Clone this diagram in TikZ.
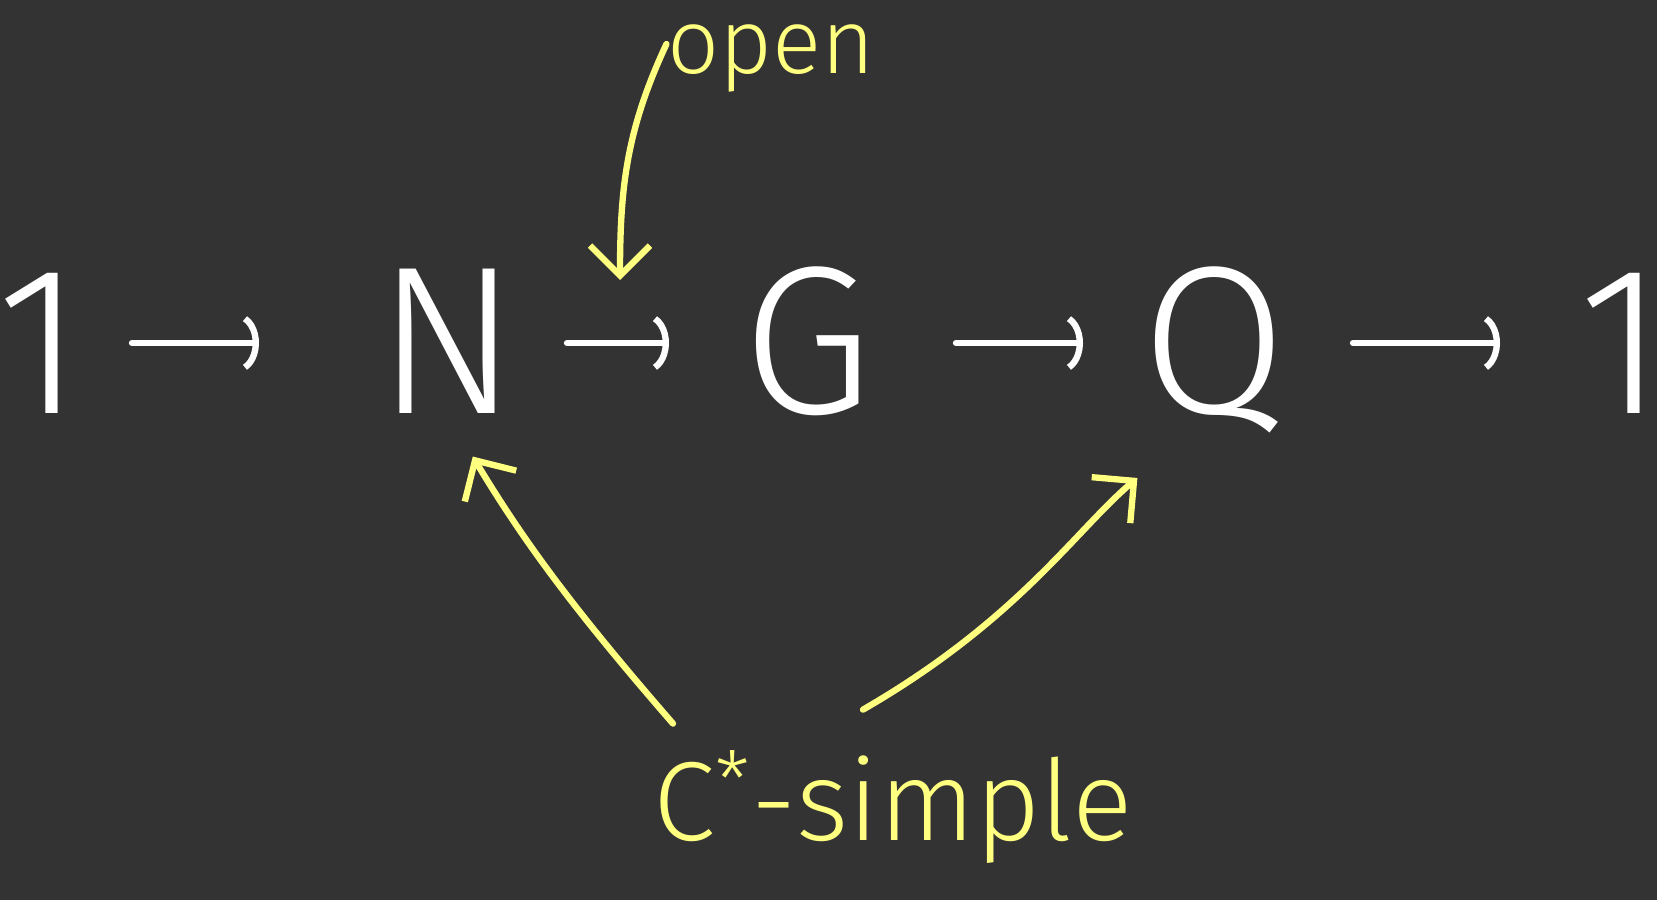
\documentclass[tikz,border=0pt]{standalone}
\usepackage{fontspec}
\setmainfont{Fira Sans}[UprightFont={* Light}]
\usetikzlibrary{arrows.meta, positioning}
\definecolor{board}{RGB}{51, 51, 51}
\definecolor{hilite}{RGB}{255, 255, 128}

\begin{document}
\begin{tikzpicture}[>={Arc Barb[arc=130, length=2.2mm, width=6mm]}, line cap=round,
  term/.style={white, font=\fontsize{60}{60}\selectfont, inner sep=0pt,
               text height=1.7cm, text depth=0pt},
  arr/.style={->, white, line width=1.8pt},
  yarr/.style={-{Straight Barb[length=3mm, width=6mm]}, hilite, line width=1.8pt},
  note/.style={hilite, inner sep=0pt, anchor=base}]
  \fill[board] (0,0) rectangle (16.57,9);
  \useasboundingbox (0,0) rectangle (16.57,9);
  \foreach \n/\t/\x in {one/1/0.40, N/N/4.47, G/G/8.08, Q/Q/12.14, last/1/16.22}{
    \node[term] (\n) at (\x, 5.72) {\t};
  }
  \foreach \a/\b/\s/\e in {one/N/0.92/1.88, N/G/1.20/1.39, G/Q/1.48/1.31, Q/last/1.39/1.22}{
    \draw[arr, shorten <=\s cm, shorten >=\e cm]
      ([yshift=-1.5mm]\a.center) -- ([yshift=-1.5mm]\b.center);
  }
  \node[note, font=\fontsize{26}{26}\selectfont] (open) at (7.71, 8.26) {open};
  \coordinate (openTip) at (6.20, 6.20);
  \draw[yarr] ([yshift=1.5mm]open.west) to[out=-115, in=90] (openTip);
  \node[note, font=\fontsize{32}{32}\selectfont] (cstar) at (8.93, 0.60)
    {C\textsuperscript{*}-simple};
  \draw[yarr, shorten >=5mm] ([xshift=2mm, yshift=2.6mm]cstar.north west)
    to[out=131, in=-59] (N.south);
  \draw[yarr, shorten >=10mm] ([xshift=-3mm, yshift=4mm]cstar.north)
    to[out=30, in=-140] (Q.south);
\end{tikzpicture}
\end{document}
